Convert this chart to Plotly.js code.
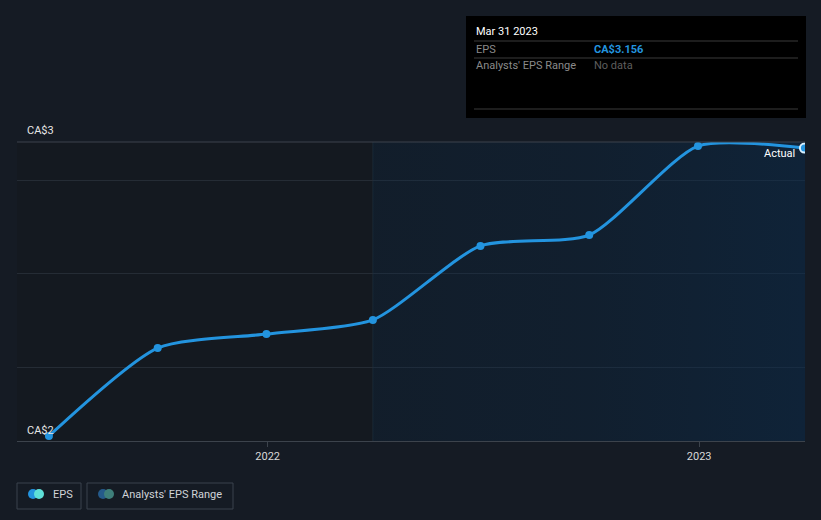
<!DOCTYPE html>
<html>
<head>
<meta charset="utf-8">
<script src="https://cdn.plot.ly/plotly-3.0.1.min.js"></script>
<style>
html,body{margin:0;padding:0;background:#151b24;}
#chart{width:821px;height:520px;}
</style>
</head>
<body>
<div id="chart"></div>
<script>
// ---- data ----
const dates = ['2021-06-30','2021-09-30','2021-12-31','2022-03-31','2022-06-30','2022-09-30','2022-12-31','2023-03-31'];
const eps = [2.020, 2.367, 2.422, 2.478, 2.770, 2.813, 3.164, 3.156];
const xTickVals = ['2022-01-01','2023-01-01'];
const xTickText = ['2022','2023'];
const yLabels = ['CA$3','CA$2'];
const highlightStart = '2022-03-31';
const tooltipDate = 'Mar 31 2023';
const tooltipEps = 'CA$3.156';
const tooltipRange = 'No data';
const legendNames = ['EPS',"Analysts' EPS Range"];

// ---- layout helpers (pixel -> paper) ----
const L = 17, R = 805, T = 142, B = 441;
const px = x => (x - L) / (R - L);
const py = y => (B - y) / (B - T);
const FONT = 'Roboto, "Open Sans", sans-serif';

const xRange = ['2021-06-03', '2023-03-31 12:00'];
const yRange = [2.0, 3.18];

// highlighted region with horizontal gradient (semi-transparent so gridlines show through)
const region = {
  x: [highlightStart, xRange[1], xRange[1], highlightStart],
  y: [yRange[0], yRange[0], yRange[1], yRange[1]],
  type: 'scatter', mode: 'none', fill: 'toself',
  fillgradient: {type: 'horizontal', colorscale: [[0, 'rgba(10,45,80,0.22)'], [0.5, 'rgba(10,45,80,0.3)'], [1, 'rgba(10,45,80,0.5)']]},
  hoverinfo: 'skip', showlegend: false
};
const trace = {
  x: dates, y: eps, type: 'scatter', mode: 'lines+markers',
  line: {color: '#2394df', width: 3, shape: 'spline', smoothing: 0.65},
  marker: {color: '#2394df', size: 8},
  cliponaxis: true, hoverinfo: 'skip', showlegend: false
};
const lastPt = {
  x: [dates[dates.length-1]], y: [eps[eps.length-1]], type: 'scatter', mode: 'markers',
  marker: {color: '#2394df', size: 9, line: {color: '#d8f0ff', width: 2}},
  cliponaxis: true, hoverinfo: 'skip', showlegend: false
};

const shapes = [
  {type:'line', xref:'x', yref:'paper', x0: highlightStart, x1: highlightStart, y0:0, y1:1,
   line:{color:'#1b2833', width:1}, layer:'below'},
  // top line
  {type:'line', xref:'paper', yref:'paper', x0:0, x1:1, y0:1, y1:1,
   line:{color:'#3c434c', width:1}},
  // tooltip box
  {type:'rect', xref:'paper', yref:'paper', x0:px(466), x1:px(806), y0:py(16), y1:py(118),
   fillcolor:'#000000', line:{width:0}},
  {type:'line', xref:'paper', yref:'paper', x0:px(474), x1:px(798), y0:py(41), y1:py(41), line:{color:'#3a3a3a', width:1}},
  {type:'line', xref:'paper', yref:'paper', x0:px(474), x1:px(798), y0:py(58), y1:py(58), line:{color:'#3a3a3a', width:1}},
  {type:'line', xref:'paper', yref:'paper', x0:px(474), x1:px(798), y0:py(109), y1:py(109), line:{color:'#3a3a3a', width:1}},
  // legend boxes
  {type:'rect', xref:'paper', yref:'paper', x0:px(17), x1:px(81), y0:py(483), y1:py(509),
   fillcolor:'rgba(0,0,0,0)', line:{color:'#3b424c', width:1}},
  {type:'rect', xref:'paper', yref:'paper', x0:px(87), x1:px(233), y0:py(483), y1:py(509),
   fillcolor:'rgba(0,0,0,0)', line:{color:'#3b424c', width:1}}
];
// legend dots
function dot(cx, cy, color){
  return {type:'circle', xref:'paper', yref:'paper', xsizemode:'pixel', ysizemode:'pixel',
    xanchor: px(cx), yanchor: py(cy), x0:-5, x1:5, y0:-5, y1:5,
    fillcolor: color, line:{width:0}};
}
shapes.push(dot(33, 494, '#2394df'), dot(39, 494, '#5ee0d8'));
shapes.push(dot(103, 494, '#255a8a'), dot(109, 494, '#3e7f7a'));

const annotations = [
  {xref:'paper', yref:'paper', x:px(25), y:py(130), text:yLabels[0], showarrow:false,
   xanchor:'left', yanchor:'middle', font:{family:FONT, size:11, color:'#e6e6e6'}},
  {xref:'paper', yref:'paper', x:px(25), y:py(430), text:yLabels[1], showarrow:false,
   xanchor:'left', yanchor:'middle', font:{family:FONT, size:11, color:'#e6e6e6'}},
  {xref:'x', yref:'y', x:dates[dates.length-1], y:eps[eps.length-1], text:'Actual', showarrow:false,
   xanchor:'right', yanchor:'middle', xshift:-7, yshift:-5, font:{family:FONT, size:11, color:'#ffffff'}},
  // tooltip text
  {xref:'paper', yref:'paper', x:px(474), y:py(31), text:tooltipDate, showarrow:false,
   xanchor:'left', yanchor:'middle', font:{family:FONT, size:11, color:'#ffffff'}},
  {xref:'paper', yref:'paper', x:px(474), y:py(49), text:'EPS', showarrow:false,
   xanchor:'left', yanchor:'middle', font:{family:FONT, size:11, color:'#8a8a8a'}},
  {xref:'paper', yref:'paper', x:px(592), y:py(49), text:'<b>'+tooltipEps+'</b>', showarrow:false,
   xanchor:'left', yanchor:'middle', font:{family:FONT, size:11, color:'#2394df'}},
  {xref:'paper', yref:'paper', x:px(474), y:py(66), text:"Analysts' EPS Range", showarrow:false,
   xanchor:'left', yanchor:'middle', font:{family:FONT, size:11, color:'#8a8a8a'}},
  {xref:'paper', yref:'paper', x:px(592), y:py(66), text:tooltipRange, showarrow:false,
   xanchor:'left', yanchor:'middle', font:{family:FONT, size:11, color:'#5e5e5e'}},
  // legend text
  {xref:'paper', yref:'paper', x:px(51), y:py(494), text:legendNames[0], showarrow:false,
   xanchor:'left', yanchor:'middle', font:{family:FONT, size:11, color:'#d0d3d8'}},
  {xref:'paper', yref:'paper', x:px(120), y:py(494), text:legendNames[1], showarrow:false,
   xanchor:'left', yanchor:'middle', font:{family:FONT, size:11, color:'#d0d3d8'}},
];

const layout = {
  width: 821, height: 520,
  margin: {l: L, r: 821 - R, t: T, b: 520 - B, pad: 0},
  paper_bgcolor: '#151b24', plot_bgcolor: '#141920',
  showlegend: false,
  font: {family: FONT, color: '#e6e6e6'},
  xaxis: {
    type: 'date', range: xRange, tickvals: xTickVals, ticktext: xTickText,
    showgrid: false, zeroline: false, showline: true, linecolor: '#3c434c', linewidth: 1,
    ticks: 'outside', ticklen: 5, tickcolor: '#3c434c',
    tickfont: {family: FONT, size: 11, color: '#d8d8d8'}, fixedrange: true
  },
  yaxis: {
    range: yRange, tickvals: [2.292, 2.663, 3.030], showticklabels: false,
    gridcolor: '#252c35', gridwidth: 1, zeroline: false, showline: false, ticks: '', fixedrange: true
  },
  shapes: shapes,
  annotations: annotations
};

Plotly.newPlot('chart', [region, trace, lastPt], layout, {displayModeBar: false, staticPlot: true});
</script>
</body>
</html>
